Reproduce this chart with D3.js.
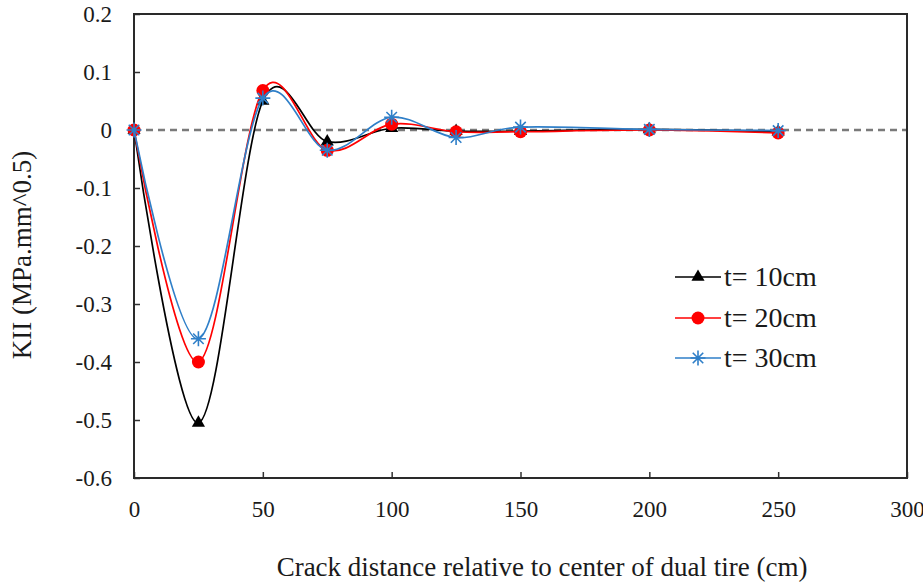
<!DOCTYPE html>
<html>
<head>
<meta charset="utf-8">
<script src="https://cdn.jsdelivr.net/npm/d3@7"></script>
<style>
  html, body { margin: 0; padding: 0; background: #fff; }
  svg { display: block; }
  svg text { font-family: "Liberation Serif", "DejaVu Serif", serif !important; fill: #1a1a1a; }
</style>
</head>
<body>
<svg id="chart" width="923" height="583"></svg>
<script>
// Crack positions (cm from the dual tire centre)
const distances = [0, 25, 50, 75, 100, 125, 150, 200, 250];

// KII values for each layer thickness
const kiiT10 = [0, -0.505, 0.050, -0.020, 0.003, -0.002, -0.002, 0.001, -0.003];
const kiiT20 = [0, -0.400, 0.068, -0.035, 0.010, -0.003, -0.003, 0.000, -0.005];
const kiiT30 = [0, -0.360, 0.055, -0.035, 0.022, -0.013, 0.005, 0.001, -0.001];

const seriesNames = ["t= 10cm", "t= 20cm", "t= 30cm"];
const seriesColors = ["#000000", "#ff0000", "#2f7fc8"];
const seriesSymbols = ["triangle", "circle", "asterisk"];

const xTicks = [0, 50, 100, 150, 200, 250, 300];
const yTicks = [0.2, 0.1, 0, -0.1, -0.2, -0.3, -0.4, -0.5, -0.6];

const svg = d3.select("#chart");
const plotLeft = 134, plotRight = 907, plotTop = 14, plotBottom = 478;

const x = d3.scaleLinear().domain([0, 300]).range([plotLeft, plotRight]);
const y = d3.scaleLinear().domain([-0.6, 0.2]).range([plotBottom, plotTop]);

// zero reference line
svg.append("line")
  .attr("x1", x(0)).attr("x2", x(300))
  .attr("y1", y(0)).attr("y2", y(0))
  .attr("stroke", "#7a7a7a").attr("stroke-width", 2.5)
  .attr("stroke-dasharray", "7,5");

// axes with inward ticks; labels use a plain hyphen for negatives
const fmtY = d => d === 0 ? "0" : d.toFixed(1);
const yAxis = d3.axisLeft(y).tickValues(yTicks).tickSize(-6).tickPadding(22)
  .tickFormat(fmtY);
const gy = svg.append("g").attr("transform", `translate(${plotLeft},0)`).call(yAxis);
gy.attr("font-family", null);
gy.select(".domain").remove();
gy.selectAll(".tick line").attr("stroke", "#333").attr("stroke-width", 1.5);
gy.selectAll(".tick text").style("font-size", "23px").attr("fill", "#1a1a1a");

const xAxis = d3.axisBottom(x).tickValues(xTicks).tickSize(-6).tickPadding(23)
  .tickFormat(d => String(d));
const gx = svg.append("g").attr("transform", `translate(0,${plotBottom})`).call(xAxis);
gx.attr("font-family", null);
gx.select(".domain").remove();
gx.selectAll(".tick line").attr("stroke", "#333").attr("stroke-width", 1.5);
gx.selectAll(".tick text").style("font-size", "23px").attr("fill", "#1a1a1a");

// plot frame
svg.append("rect")
  .attr("x", plotLeft).attr("y", plotTop)
  .attr("width", plotRight - plotLeft).attr("height", plotBottom - plotTop)
  .attr("fill", "none").attr("stroke", "#2a2a2a").attr("stroke-width", 2);

// smoothed series lines
const line = d3.line()
  .x(d => x(d[0])).y(d => y(d[1]))
  .curve(d3.curveCardinal.tension(0));

const allSeries = [kiiT10, kiiT20, kiiT30];

function drawSymbol(g, type, color, cx, cy) {
  if (type === "triangle") {
    g.append("path")
      .attr("d", d3.symbol(d3.symbolTriangle, 75)())
      .attr("transform", `translate(${cx},${cy})`)
      .attr("fill", color);
  } else if (type === "circle") {
    g.append("circle").attr("cx", cx).attr("cy", cy).attr("r", 6.5)
      .attr("fill", color);
  } else {
    const r = 7.5;
    const pathD = [
      `M${cx - r},${cy}L${cx + r},${cy}`,
      `M${cx},${cy - r}L${cx},${cy + r}`,
      `M${cx - r * 0.7},${cy - r * 0.7}L${cx + r * 0.7},${cy + r * 0.7}`,
      `M${cx - r * 0.7},${cy + r * 0.7}L${cx + r * 0.7},${cy - r * 0.7}`
    ].join("");
    g.append("path").attr("d", pathD).attr("stroke", color)
      .attr("stroke-width", 1.6).attr("fill", "none");
  }
}

allSeries.forEach((vals, i) => {
  const pts = distances.map((d, k) => [d, vals[k]]);
  const g = svg.append("g");
  g.append("path").datum(pts)
    .attr("d", line)
    .attr("fill", "none")
    .attr("stroke", seriesColors[i])
    .attr("stroke-width", 1.7);
  pts.forEach(p => drawSymbol(g, seriesSymbols[i], seriesColors[i], x(p[0]), y(p[1])));
});

// legend
const legendY = [277, 318, 358];
seriesNames.forEach((name, i) => {
  const g = svg.append("g");
  g.append("line").attr("x1", 675).attr("x2", 721)
    .attr("y1", legendY[i]).attr("y2", legendY[i])
    .attr("stroke", seriesColors[i]).attr("stroke-width", 1.7);
  drawSymbol(g, seriesSymbols[i], seriesColors[i], 698, legendY[i]);
  g.append("text").attr("x", 724).attr("y", legendY[i] + 9)
    .style("font-size", "28px").text(name);
});

// axis titles
svg.append("text")
  .attr("x", 542).attr("y", 576)
  .attr("text-anchor", "middle")
  .style("font-size", "27px")
  .text("Crack distance relative  to center of dual tire (cm)");

svg.append("text")
  .attr("transform", "translate(31,255) rotate(-90)")
  .attr("text-anchor", "middle")
  .style("font-size", "27px")
  .text("KII (MPa.mm^0.5)");
</script>
</body>
</html>
